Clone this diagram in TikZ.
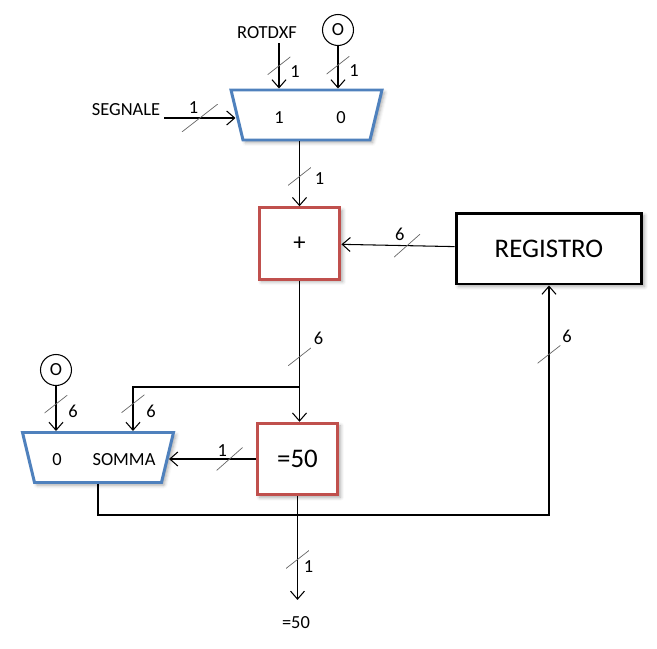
\documentclass[tikz,border=0pt]{standalone}
\usepackage{fontspec}
\setmainfont{Carlito}
\usepackage{tikz}
\usetikzlibrary{arrows.meta,shapes.geometric,positioning,shadows.blur}
\definecolor{muxblue}{RGB}{79,129,189}
\definecolor{opred}{RGB}{192,80,77}
\newcommand{\smallfont}{\fontsize{10.5}{12}\selectfont}
\newcommand{\bigfont}{\fontsize{15.3}{18}\selectfont}
\tikzset{style={>={Straight Barb[length=1.6mm,width=2.8mm]}}}
\tikzset{boxshadow/.style={blur shadow={shadow xshift=.5mm,shadow yshift=-.5mm,shadow blur radius=.7mm,shadow opacity=35}}}
\tikzset{mux/.style={trapezium,trapezium left angle=76.5,trapezium right angle=76.5,shape border rotate=180,fill=white,draw=muxblue,line width=1.7pt,inner xsep=1.27cm,inner ysep=.5cm,boxshadow}}
\tikzset{opbox/.style={rectangle,fill=white,draw=opred,line width=1.7pt,minimum width=1.62cm,minimum height=1.43cm,inner sep=0mm,font=\bigfont,boxshadow}}
\tikzset{regbox/.style={rectangle,fill=white,draw=black,line width=1.7pt,minimum width=3.72cm,minimum height=1.42cm,inner sep=0mm,font=\bigfont,boxshadow}}
\tikzset{constin/.style={circle,draw=black,line width=.6pt,minimum size=6.2mm,inner sep=0mm,font=\smallfont}}
\tikzset{signal/.style={inner sep=2pt,font=\smallfont}}
\tikzset{muxin/.style={inner sep=0mm,font=\smallfont}}
\tikzset{busmark/.style={inner sep=0mm,outer sep=0mm,minimum width=4.6mm,minimum height=3.6mm,path picture={\draw[-,draw=black!60,line width=.4pt] (path picture bounding box.south west) -- (path picture bounding box.north east);}}}
\tikzset{wideslash/.style={minimum width=5.2mm,minimum height=4.6mm}}
\tikzset{bigslash/.style={minimum width=7.2mm,minimum height=5.6mm}}
\tikzset{buswidth/.style={inner sep=0mm,outer sep=0mm,font=\smallfont}}

\begin{document}
\begin{tikzpicture}[x=0.02cm,y=-0.02cm,line width=.6pt]
    \useasboundingbox (0,0) rectangle (657,649);

    \node[mux]     (segmux)  at (306.5,115) {};
    \node[muxin]   (segone)  at (279,118) {1};
    \node[muxin]   (segzero) at (341,118) {0};
    \node[signal]  (rotdxf)  at (267,33)  {ROTDXF};
    \node[constin] (zerotop) at (338,30)  {O};
    \node[signal]  (segnale) at (126,110) {SEGNALE};
    \node[opbox, font=\fontsize{14}{16}\selectfont] (plus) at (299.5,243.5) {+};
    \node[regbox]  (reg)     at (549,248.5) {REGISTRO};
    \node[opbox]   (eq50)    at (297.5,459) {=50};
    \node[mux]     (summux)  at (98,457.5) {};
    \node[muxin]   (sumzero) at (57,460)  {0};
    \node[muxin]   (sumin)   at (124,460) {SOMMA};
    \node[constin] (zerobot) at (56,370)  {O};
    \node[signal]  (outsig)  at (296,623) {=50};
    \coordinate (fork) at (299.5,387);

    \draw[->] (rotdxf.south -| segone) -- (segone |- segmux.north) node[midway,busmark] (rotbus) {};
    \draw[->] (zerotop) -- (zerotop |- segmux.north) node[pos=.45,busmark] (zerotopbus) {};
    \draw[->] (segnale.east |- segone) -- (segone -| segmux.west) node[midway,busmark,bigslash] (segbus) {};
    \draw[->] (plus |- segmux.south) -- (plus) node[pos=.54,busmark] (segoutbus) {};
    \draw[->] (reg) -- (plus) node[pos=.42,busmark,wideslash] (regbus) {};
    \draw[->] (plus) -- (plus |- eq50.north) node[pos=.54,busmark] (plusbus) {};
    \draw[->] (fork) -| ([xshift=7mm]summux.north) node[pos=.69,busmark] (forkbus) {};
    \draw[->] (zerobot) -- (zerobot |- summux.north) node[pos=.4,busmark] (zerobotbus) {};
    \draw[->] (eq50.west) -- (eq50.west -| summux.east) node[pos=.3,busmark,wideslash] (eqbus) {};
    \draw[->] (summux.south) -- ++(0,31) -| (reg.south) node[pos=.85,busmark] (loopbus) {};
    \draw[->] (eq50) -- ([yshift=2.6mm]outsig.north -| eq50) node[pos=.61,busmark] (outbus) {};

    \node[above left  = -1.8mm and -3.3mm of segbus,buswidth] {1};
    \node[below right = -1.8mm and 0mm of rotbus,buswidth] {1};
    \node[below right = -2mm and 0mm of zerotopbus,buswidth] {1};
    \node[below right = -2.6mm and .8mm of segoutbus,buswidth] {1};
    \node[above left  = -1.3mm and -2.1mm of regbus,buswidth] {6};
    \node[above right = .6mm and .6mm of plusbus,buswidth] {6};
    \node[below right = -1.6mm and .4mm of forkbus,buswidth] {6};
    \node[below right = -1.6mm and .2mm of zerobotbus,buswidth] {6};
    \node[above left  = -1.7mm and -2.1mm of eqbus,buswidth] {1};
    \node[above right = .6mm and .4mm of loopbus,buswidth] {6};
    \node[below right = -1.6mm and -1mm of outbus,buswidth] {1};
\end{tikzpicture}
\end{document}
